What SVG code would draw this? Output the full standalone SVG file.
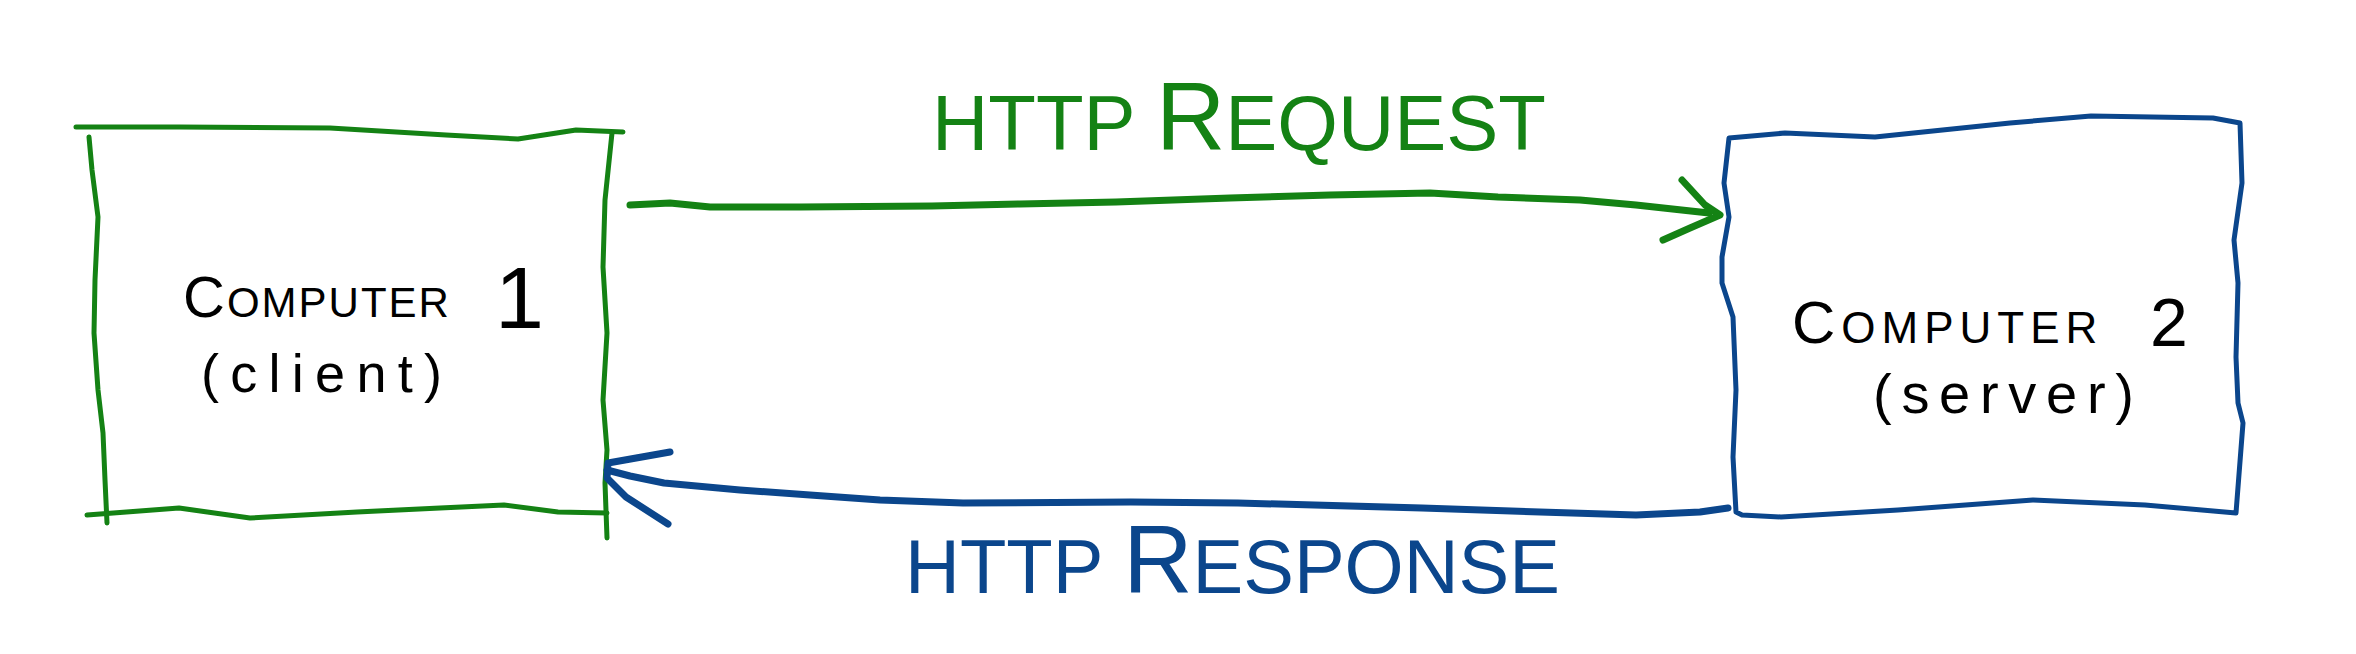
<svg xmlns="http://www.w3.org/2000/svg" width="2356" height="654" viewBox="0 0 2356 654">
<style>
.line{fill:none;stroke-linecap:round;stroke-linejoin:round}
.green{stroke:#148214}
.blue{stroke:#0b468c}
.box{stroke-width:5}
.arrow{stroke-width:7}
.lbl{font-family:"Liberation Sans",Arial,sans-serif;fill:#000}
.conn{font-family:"Liberation Sans",Arial,sans-serif}
</style>
<rect x="0" y="0" width="2356" height="654" fill="#ffffff"/>
<g id="computer1">
<path class="line green box" d="M76,127 L179,127 L330,128 L446,135 L518,139 L576,130 L623,132"/>
<path class="line green box" d="M89,137 L92,170 L98,217 L95,280 L94,333 L98,390 L103,433 L105,480 L107,523"/>
<path class="line green box" d="M87,515 L179,508 L250,518 L357,512 L440,508 L504,505 L558,512 L607,513"/>
<path class="line green box" d="M612,133 L605,200 L603,267 L607,333 L603,400 L607,450 L605,483 L607,538"/>
<text class="lbl" x="183" y="317" font-size="42" letter-spacing="2"><tspan font-size="58">C</tspan>OMPUTER</text>
<text class="lbl" x="495" y="328" font-size="88">1</text>
<text class="lbl" x="201" y="392" font-size="54" textLength="241" lengthAdjust="spacing">(client)</text>
</g>
<g id="computer2">
<path class="line blue box" d="M1736,512 L1733,457 L1736,390 L1733,317 L1722,283 L1722,257 L1729,217 L1724,183 L1729,138 L1785,133 L1875,137 L2010,123 L2091,116 L2213,118 L2240,123 L2242,183 L2234,240 L2238,283 L2236,357 L2238,403 L2243,423 L2236,513 L2145,505 L2033,500 L1898,510 L1781,517 L1742,515 Z"/>
<text class="lbl" x="1792" y="343" font-size="44" letter-spacing="6"><tspan font-size="60">C</tspan>OMPUTER</text>
<text class="lbl" x="2150" y="346" font-size="68">2</text>
<text class="lbl" x="1873" y="413" font-size="56" textLength="261" lengthAdjust="spacing">(server)</text>
</g>
<g id="connectors">
<g id="request">
<path class="line green arrow" d="M630,205 L670,203 L710,207 L800,207 L932,206 L1020,204 L1116,202 L1230,198 L1330,195 L1430,193 L1498,197 L1580,200 L1636,205 L1709,213"/>
<path class="line green arrow" d="M1682,180 L1705,205 L1720,215 L1690,228 L1663,240"/>
<text class="conn" x="932" y="150" font-size="78" fill="#148214">HTTP <tspan font-size="96">R</tspan>EQUEST</text>
</g>
<g id="response">
<path class="line blue arrow" d="M1728,508 L1700,512 L1636,515 L1540,512 L1422,508 L1238,503 L1131,502 L963,503 L880,500 L810,495 L740,490 L664,483 L630,476 L607,470"/>
<path class="line blue arrow" d="M670,452 L608,463 L607,478 L626,497 L668,524"/>
<text class="conn" x="905" y="593" font-size="76" fill="#0b468c">HTTP <tspan font-size="96">R</tspan>ESPONSE</text>
</g>
</g>
</svg>
